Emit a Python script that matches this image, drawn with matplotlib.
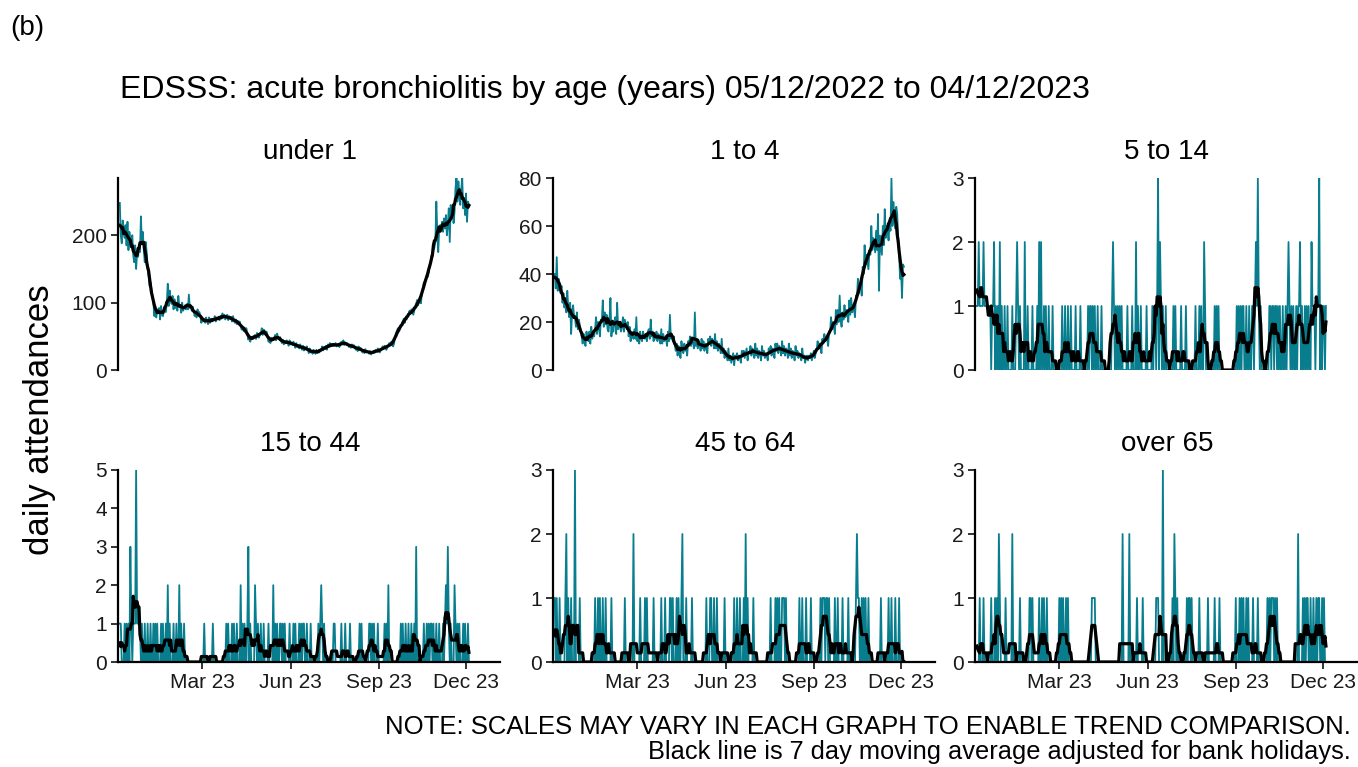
import numpy as np
import pandas as pd
import matplotlib
matplotlib.use('Agg')
import matplotlib.pyplot as plt
from matplotlib.ticker import MultipleLocator

plt.rcParams['font.family'] = ['Liberation Sans', 'DejaVu Sans']

# daily attendances, 05/12/2022 to 04/12/2023 (one row per week)
under_1 = [
    248, 200, 188, 222, 210, 196, 215,
    185, 220, 178, 205, 190, 182, 200,
    170, 160, 185, 150, 175, 168, 180,
    175, 228, 190, 205, 178, 160, 190,
    175, 150, 140, 125, 130, 120, 110,
    100, 80, 95, 78, 90, 85, 92,
    75, 95, 82, 80, 90, 88, 86,
    100, 128, 95, 118, 105, 98, 110,
    90, 105, 92, 100, 88, 110, 95,
    95, 85, 100, 88, 92, 96, 90,
    98, 90, 112, 92, 96, 88, 94,
    88, 80, 86, 78, 90, 84, 86,
    80, 70, 78, 72, 76, 70, 78,
    72, 68, 78, 70, 76, 72, 74,
    74, 80, 72, 78, 75, 79, 74,
    80, 76, 84, 78, 82, 75, 80,
    82, 74, 80, 76, 79, 72, 80,
    74, 70, 75, 68, 73, 70, 72,
    66, 60, 64, 58, 63, 60, 62,
    52, 45, 50, 42, 48, 46, 50,
    48, 52, 46, 55, 50, 48, 52,
    55, 62, 52, 60, 58, 54, 57,
    50, 42, 46, 40, 48, 44, 45,
    45, 52, 44, 54, 48, 46, 49,
    44, 40, 45, 38, 43, 40, 44,
    42, 36, 44, 38, 41, 37, 42,
    38, 33, 40, 34, 37, 32, 38,
    35, 30, 36, 29, 34, 31, 35,
    30, 25, 32, 26, 29, 24, 30,
    28, 24, 30, 25, 28, 26, 29,
    30, 35, 29, 34, 31, 36, 30,
    38, 34, 40, 35, 38, 36, 39,
    36, 40, 35, 38, 37, 34, 39,
    42, 38, 44, 37, 41, 38, 40,
    38, 34, 37, 33, 38, 35, 37,
    34, 30, 33, 28, 35, 31, 33,
    30, 26, 29, 25, 31, 27, 28,
    27, 24, 28, 23, 27, 25, 28,
    26, 30, 27, 32, 28, 26, 29,
    31, 35, 32, 36, 33, 30, 34,
    36, 40, 37, 42, 38, 35, 40,
    50, 55, 58, 62, 57, 60, 64,
    68, 72, 76, 70, 78, 75, 80,
    82, 88, 84, 90, 86, 82, 88,
    95, 98, 104, 96, 102, 106, 99,
    115, 122, 130, 128, 135, 140, 138,
    145, 155, 160, 170, 168, 178, 182,
    190, 250, 205, 175, 210, 215, 212,
    220, 205, 225, 210, 230, 200, 215,
    240, 190, 245, 225, 238, 218, 235,
    270, 285, 250, 280, 260, 245, 268,
    285, 240, 255, 230, 262, 220, 250,
    245]

age_1_4 = [
    40, 34, 47, 33, 38, 36, 32,
    35, 28, 32, 26, 30, 24, 33,
    26, 22, 28, 15, 24, 27, 23,
    22, 18, 24, 17, 21, 19, 16,
    14, 11, 15, 12, 10, 16, 13,
    12, 16, 11, 18, 13, 15, 14,
    17, 22, 15, 20, 18, 14, 21,
    20, 29, 18, 24, 19, 23, 17,
    16, 21, 30, 14, 19, 16, 20,
    22, 15, 28, 17, 20, 18, 16,
    18, 22, 16, 21, 19, 17, 20,
    14, 18, 12, 16, 15, 13, 17,
    13, 22, 12, 15, 11, 16, 13,
    12, 16, 14, 13, 15, 12, 16,
    17, 13, 21, 14, 16, 12, 15,
    13, 16, 12, 15, 14, 11, 17,
    11, 15, 12, 14, 13, 10, 16,
    12, 23, 13, 15, 12, 14, 11,
    8, 11, 6, 10, 9, 5, 12,
    9, 7, 11, 8, 10, 6, 12,
    11, 14, 10, 13, 12, 9, 24,
    10, 13, 9, 12, 11, 8, 13,
    9, 12, 8, 11, 10, 7, 13,
    11, 14, 10, 13, 12, 9, 15,
    9, 12, 8, 11, 10, 7, 13,
    7, 9, 5, 8, 6, 4, 9,
    4, 6, 3, 5, 7, 2, 6,
    5, 7, 4, 6, 5, 3, 8,
    6, 8, 5, 7, 9, 4, 7,
    7, 10, 6, 9, 8, 5, 11,
    6, 9, 5, 8, 7, 4, 10,
    6, 8, 5, 7, 6, 4, 9,
    7, 10, 6, 9, 8, 5, 11,
    8, 11, 7, 10, 9, 6, 12,
    7, 10, 6, 9, 8, 5, 11,
    6, 9, 5, 8, 7, 4, 10,
    6, 8, 5, 7, 6, 4, 9,
    5, 6, 3, 5, 6, 4, 6,
    5, 7, 4, 6, 8, 5, 7,
    8, 12, 9, 11, 10, 7, 13,
    11, 15, 12, 14, 13, 10, 16,
    16, 22, 17, 20, 18, 15, 25,
    19, 25, 20, 31, 21, 18, 24,
    21, 27, 22, 25, 24, 20, 29,
    23, 30, 24, 27, 25, 22, 31,
    30, 38, 32, 36, 35, 31, 43,
    40, 52, 44, 48, 45, 42, 50,
    48, 60, 50, 55, 52, 49, 58,
    50, 65, 33, 56, 52, 48, 60,
    52, 67, 55, 60, 58, 54, 62,
    58, 80, 60, 70, 62, 59, 68,
    65, 55, 48, 38, 42, 30, 44,
    43]

# low counts, one digit per day, one group per week
age_5_14 = ("1121111 2111111 1011201 0102010 0100100 0010001 2101000 0200100 "
            "0010000 1020200 1010010 0010000 0000010 0100100 1000010 0001000 "
            "0000101 1010100 1000100 0000000 0121010 1010100 0001000 0100020 "
            "1001000 0010000 0101101 3021010 0100000 0010100 0001000 0100000 "
            "0000100 0101002 1000000 0001010 1000000 0000000 0000010 1010110 "
            "0100100 1101213 1010000 0000110 1101101 0100100 1012101 0100101 "
            "1201001 0101002 1110111 3010110 1")
age_15_44 = ("1100010 1010310 1115111 1010010 0100100 1010100 0101001 0201000 "
             "1001002 0100100 0000000 0000000 0000100 0000001 0000000 0000001 "
             "0100010 1001000 2010100 1301000 0210100 1001000 0100002 0101001 "
             "1010100 0010001 0100010 1011001 0001000 0000101 2101000 0000001 "
             "1000000 1000100 0010000 0000010 1000000 0110101 0001000 0001010 "
             "2000000 0000001 0100100 1001001 0300000 0010010 1011010 0100100 "
             "0101213 1010002 1010100 0101001 0")
age_45_64 = ("1010010 0000120 1001000 3000010 0000000 0000000 1001010 0100100 "
             "0001000 0000000 0001000 0000020 0000010 0001010 0000010 0000001 "
             "0001000 0110100 0101001 2000100 0001000 0000000 0000100 0110010 "
             "0100000 0010000 0000010 0100100 0102010 0000100 0000000 0000000 "
             "0100001 0101001 1101000 0000000 0001001 0001000 0100000 0000101 "
             "1101101 0000010 0100001 0000010 0000001 2110010 1010010 0000000 "
             "0000100 0000010 0100010 0010000 0")
over_65 = ("0001000 1000000 0100010 1021000 0010000 0020000 0001000 0000001 "
           "1010000 0010010 1001000 0000000 0010101 0010100 0000000 0000000 "
           "0000000 0111100 0000000 0000000 0000000 0000020 0000020 0000001 "
           "0000010 0000000 0000011 1000030 0000000 0102101 0000000 0010110 "
           "1000000 0100000 0001000 0001000 0100000 0000000 0000100 0101010 "
           "0101000 0100001 0000000 0010101 1101010 0000000 0000000 0000002 "
           "0000101 0110010 0100101 1001010 0")


def digits(s):
    return [int(c) for c in s if c.isdigit()]


panels = [
    ('under 1', under_1, 100),
    ('1 to 4', age_1_4, 20),
    ('5 to 14', digits(age_5_14), 1),
    ('15 to 44', digits(age_15_44), 1),
    ('45 to 64', digits(age_45_64), 1),
    ('over 65', digits(over_65), 1),
]

start = pd.Timestamp('2022-12-05')
tick_dates = pd.to_datetime(['2023-03-01', '2023-06-01', '2023-09-01', '2023-12-01'])
tick_labels = ['Mar 23', 'Jun 23', 'Sep 23', 'Dec 23']

TEAL = '#077d8e'
W, H = 1358, 767
fig = plt.figure(figsize=(W / 100, H / 100), dpi=100)

lefts = [118, 553, 975]
tops = [178, 470]
strip_y = [152, 444]
pw, ph = 382, 192

for i, (name, vals, step) in enumerate(panels):
    row, col = divmod(i, 3)
    l, t = lefts[col], tops[row]
    ax = fig.add_axes([l / W, 1 - (t + ph) / H, pw / W, ph / H])
    s = pd.Series(vals, index=pd.date_range(start, periods=len(vals), freq='D'))
    avg = s.rolling(7, center=True, min_periods=1).mean()
    ax.plot(s.index, s.values, color=TEAL, lw=1.3, zorder=2)
    ax.plot(avg.index, avg.values, color='black', lw=2.3, zorder=3)

    ax.set_ylim(0, max(vals))
    ax.set_xlim(start - pd.Timedelta(days=1.9), start + pd.Timedelta(days=396.4))
    ax.yaxis.set_major_locator(MultipleLocator(step))
    for side in ['top', 'right']:
        ax.spines[side].set_visible(False)
    ax.spines['left'].set_linewidth(1.6)
    ax.spines['bottom'].set_linewidth(1.6)
    ax.tick_params(axis='both', length=5, width=1.4, color='#333333',
                   labelsize=15, labelcolor='#1a1a1a', pad=3)
    ax.set_xticks(tick_dates)
    if row == 0:
        ax.spines['bottom'].set_visible(False)
        ax.tick_params(axis='x', bottom=False, labelbottom=False)
    else:
        ax.set_xticklabels(tick_labels)
    fig.text((l + pw / 2 + 1) / W, 1 - strip_y[row] / H, name,
             ha='center', va='center', fontsize=20)

fig.text(10 / W, 1 - 28 / H, '(b)', ha='left', va='center', fontsize=20)
fig.text(120 / W, 1 - 90 / H,
         'EDSSS: acute bronchiolitis by age (years) 05/12/2022 to 04/12/2023',
         ha='left', va='center', fontsize=23)
fig.text(40 / W, 1 - 420 / H, 'daily attendances', rotation=90,
         ha='center', va='center', fontsize=25)
fig.text(1351 / W, 1 - 727 / H,
         'NOTE: SCALES MAY VARY IN EACH GRAPH TO ENABLE TREND COMPARISON.',
         ha='right', va='center', fontsize=18.5)
fig.text(1351 / W, 1 - 752 / H,
         'Black line is 7 day moving average adjusted for bank holidays.',
         ha='right', va='center', fontsize=18.3)

fig.savefig('out.png', dpi=100)
